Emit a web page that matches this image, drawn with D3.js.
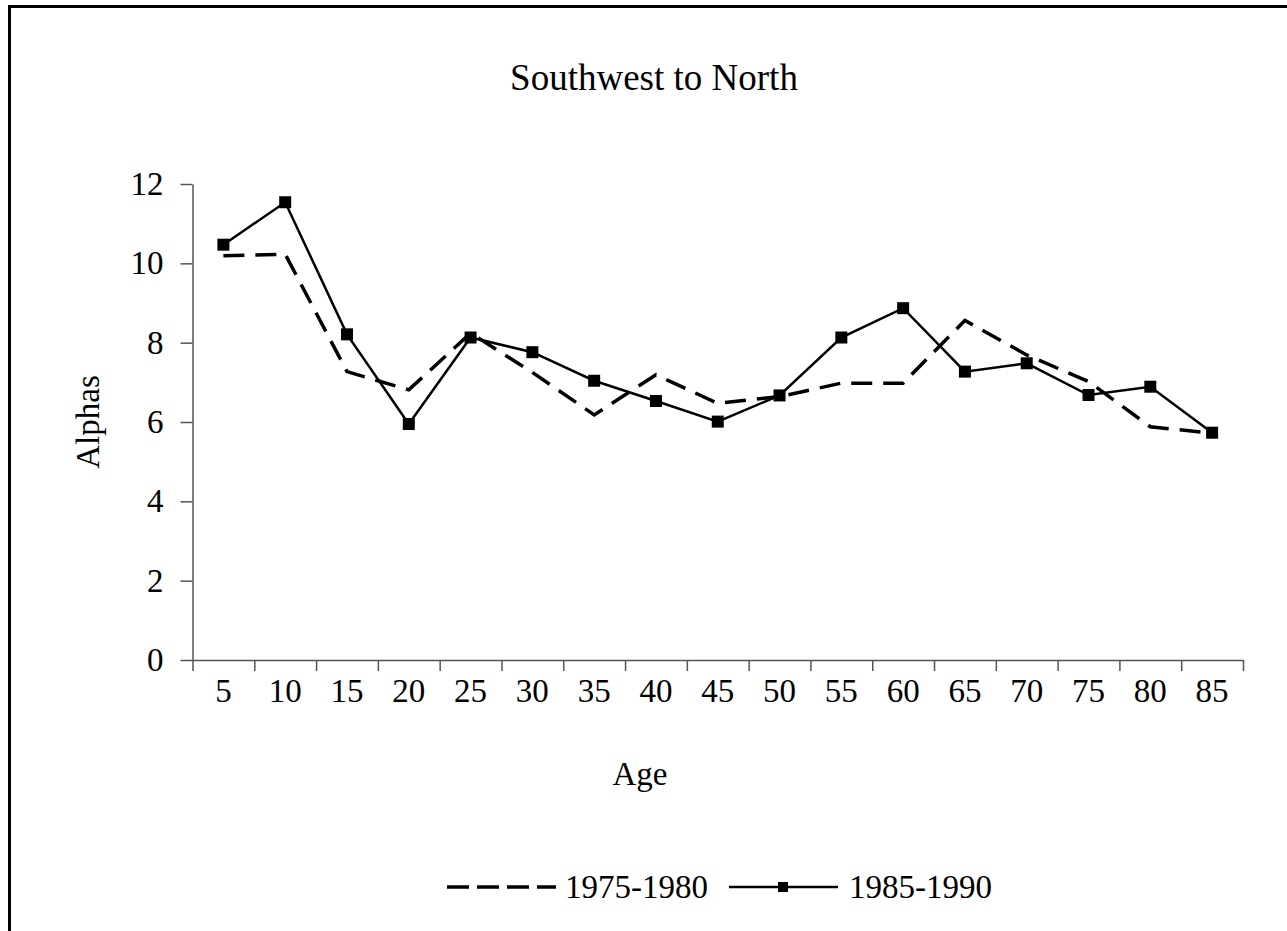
<!DOCTYPE html>
<html>
<head>
<meta charset="utf-8">
<script src="https://cdn.jsdelivr.net/npm/d3@7"></script>
<style>
  body { margin: 0; background: #fff; }
  svg { display: block; }
  text { font-family: "Liberation Serif", "Times New Roman", serif; fill: #000; }
</style>
</head>
<body>
<svg width="1287" height="931"></svg>
<script>
// values
var ages = ["5", "10", "15", "20", "25", "30", "35", "40", "45", "50", "55", "60", "65", "70", "75", "80", "85"];
var alpha7580 = [10.19, 10.23, 7.27, 6.81, 8.24, 7.25, 6.18, 7.19, 6.47, 6.64, 6.98, 6.98, 8.56, 7.69, 7.02, 5.88, 5.72];
var alpha8590 = [10.47, 11.54, 8.21, 5.95, 8.13, 7.76, 7.04, 6.53, 6.01, 6.67, 8.13, 8.87, 7.27, 7.48, 6.68, 6.89, 5.73];
var yTicks = [0, 2, 4, 6, 8, 10, 12];
var seriesNames = ["1975-1980", "1985-1990"];

var svg = d3.select("svg");

// outer frame (right and bottom run off the page)
svg.append("rect")
    .attr("x", 9.5).attr("y", 6.5)
    .attr("width", 1400).attr("height", 1000)
    .attr("fill", "none").attr("stroke", "#000").attr("stroke-width", 3);

var plotL = 192.5, plotR = 1243, plotT = 184, plotB = 660;
var fs = 33;

var x = d3.scaleBand().domain(ages).range([plotL, plotR]).padding(0);
var xEdge = d3.scaleLinear().domain([0, ages.length]).range([plotL, plotR]);
var y = d3.scaleLinear().domain([0, 12]).range([plotB, plotT]);

// y axis
var yAxis = svg.append("g")
    .attr("transform", "translate(" + plotL + ",0)")
    .call(d3.axisLeft(y).tickValues(yTicks).tickSize(12).tickPadding(17).tickSizeOuter(0).tickFormat(d3.format("d")));
yAxis.select(".domain").attr("stroke", "#555").attr("stroke-width", 1.5);
yAxis.selectAll(".tick line").attr("stroke", "#555").attr("stroke-width", 1.5);
yAxis.selectAll("text").attr("font-size", fs).attr("font-family", "Liberation Serif");

// x axis: ticks on category edges
var xTickAxis = svg.append("g")
    .attr("transform", "translate(0," + plotB + ")")
    .call(d3.axisBottom(xEdge).tickValues(d3.range(ages.length + 1)).tickSize(11).tickSizeOuter(0).tickFormat(""));
xTickAxis.select(".domain").attr("stroke", "#555").attr("stroke-width", 1.5);
xTickAxis.selectAll(".tick line").attr("stroke", "#555").attr("stroke-width", 1.5);

var xLabAxis = svg.append("g")
    .attr("transform", "translate(0," + plotB + ")")
    .call(d3.axisBottom(x).tickSize(0).tickPadding(19));
xLabAxis.select(".domain").remove();
xLabAxis.selectAll("text").attr("font-size", fs).attr("font-family", "Liberation Serif");

// titles
svg.append("text").attr("x", 654).attr("y", 90).attr("text-anchor", "middle")
    .attr("font-size", 37).text("Southwest to North");
svg.append("text").attr("x", 640).attr("y", 785).attr("text-anchor", "middle")
    .attr("font-size", fs).text("Age");
svg.append("text")
    .attr("transform", "translate(99," + ((plotT + plotB) / 2) + ") rotate(-90)")
    .attr("text-anchor", "middle").attr("font-size", fs).text("Alphas");

var line = d3.line()
    .x(function(d, i) { return x(ages[i]) + x.bandwidth() / 2; })
    .y(function(d) { return y(d); });

svg.append("path").datum(alpha7580)
    .attr("d", line).attr("fill", "none").attr("stroke", "#000")
    .attr("stroke-width", 3.5).attr("stroke-dasharray", "21,11");

svg.append("path").datum(alpha8590)
    .attr("d", line).attr("fill", "none").attr("stroke", "#000")
    .attr("stroke-width", 2.5);

var m = 12;
svg.selectAll(".mk").data(alpha8590).enter().append("rect")
    .attr("class", "mk")
    .attr("x", function(d, i) { return x(ages[i]) + x.bandwidth() / 2 - m / 2; })
    .attr("y", function(d) { return y(d) - m / 2; })
    .attr("width", m).attr("height", m).attr("fill", "#000");

// legend
var ly = 887;
var lg = svg.append("g");
lg.append("line").attr("x1", 447).attr("x2", 556).attr("y1", ly).attr("y2", ly)
    .attr("stroke", "#000").attr("stroke-width", 3.5).attr("stroke-dasharray", "22,8");
lg.append("text").attr("x", 565).attr("y", ly + 11).attr("font-size", fs).text(seriesNames[0]);
lg.append("line").attr("x1", 729).attr("x2", 838).attr("y1", ly).attr("y2", ly)
    .attr("stroke", "#000").attr("stroke-width", 2.5);
lg.append("rect").attr("x", 783 - 5).attr("y", ly - 5).attr("width", 10).attr("height", 10).attr("fill", "#000");
lg.append("text").attr("x", 849).attr("y", ly + 11).attr("font-size", fs).text(seriesNames[1]);
</script>
</body>
</html>
